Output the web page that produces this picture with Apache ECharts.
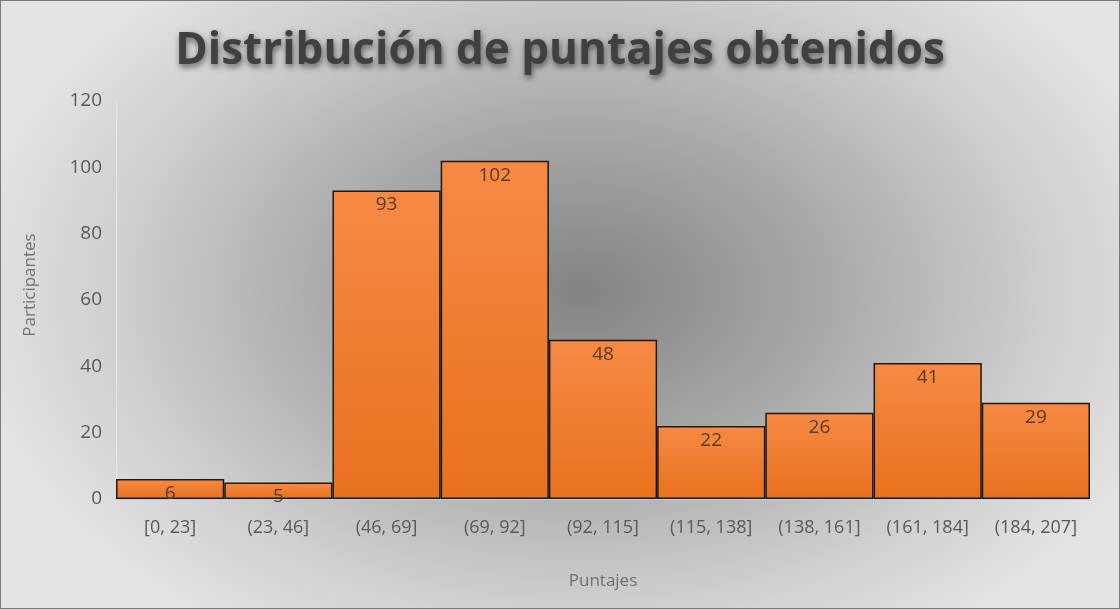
<!DOCTYPE html>
<html>
<head>
<meta charset="utf-8">
<script src="https://cdn.jsdelivr.net/npm/echarts@6/dist/echarts.min.js"></script>
<style>
  html, body { margin: 0; padding: 0; }
  #main {
    width: 1118px; height: 607px;
    border: 1px solid #7a7a7a;
    background: radial-gradient(ellipse 620px 420px at 580px 290px, #838383 0%, #a9a9a9 40%, #cfcfcf 75%, #e4e4e4 100%);
  }
</style>
</head>
<body>
<div id="main"></div>
<script>
var categories = ['[0, 23]', '(23, 46]', '(46, 69]', '(69, 92]', '(92, 115]', '(115, 138]', '(138, 161]', '(161, 184]', '(184, 207]'];
var participantes = [6, 5, 93, 102, 48, 22, 26, 41, 29];
var yTicks = [0, 120, 20];

var font = '"Open Sans", "Noto Sans", sans-serif';

option = {
    backgroundColor: 'transparent',
    title: {
        text: 'Distribución de puntajes obtenidos',
        left: 'center',
        top: 23,
        textStyle: {
            fontFamily: font,
            fontSize: 44,
            fontWeight: 'bold',
            color: '#404040',
            textShadowColor: 'rgba(0,0,0,0.55)',
            textShadowBlur: 6,
            textShadowOffsetX: 1,
            textShadowOffsetY: 3
        }
    },
    grid: {
        left: 115,
        right: 29,
        top: 100,
        bottom: 109
    },
    xAxis: {
        type: 'category',
        data: categories,
        name: 'Puntajes',
        nameLocation: 'middle',
        nameGap: 74,
        nameTextStyle: { fontFamily: font, fontSize: 17, color: '#707070' },
        axisLine: { lineStyle: { color: '#c5ccd4', width: 2 } },
        axisTick: { show: false },
        axisLabel: { interval: 0, hideOverlap: false, fontFamily: font, fontSize: 18, color: '#595959', margin: 20 }
    },
    yAxis: {
        type: 'value',
        min: yTicks[0],
        max: yTicks[1],
        interval: yTicks[2],
        name: 'Participantes',
        nameLocation: 'middle',
        nameGap: 77,
        nameTextStyle: { fontFamily: font, fontSize: 17, color: '#707070', padding: [0, 0, 0, 30] },
        axisLine: { show: true, lineStyle: { color: '#e6e6e6', width: 1 } },
        axisTick: { show: false },
        splitLine: { show: false },
        axisLabel: { fontFamily: font, fontSize: 19, color: '#595959', margin: 14 }
    },
    series: [
        {
            name: 'Participantes',
            type: 'bar',
            data: participantes,
            barCategoryGap: 0,
            itemStyle: {
                color: {
                    type: 'linear', x: 0, y: 0, x2: 0, y2: 1,
                    colorStops: [
                        { offset: 0, color: '#f68a45' },
                        { offset: 1, color: '#e8711d' }
                    ]
                },
                borderColor: '#1a1a1a',
                borderWidth: 1.5
            },
            label: {
                show: true,
                position: 'insideTop',
                distance: 5,
                fontFamily: font,
                fontSize: 19,
                color: '#5a3a22'
            }
        }
    ]
};

var myChart = echarts.init(document.getElementById('main'));
myChart.setOption(option);
</script>
</body>
</html>
